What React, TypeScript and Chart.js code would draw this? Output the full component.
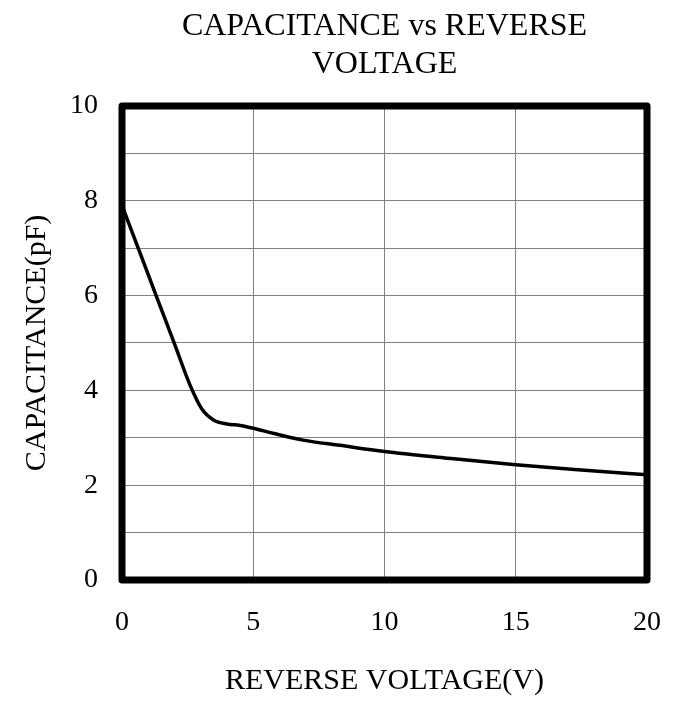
import React, { useEffect, useRef } from "react";
import { Chart, registerables } from "chart.js";

Chart.register(...registerables);

const voltage = [0, 0.7, 1.3, 2.0, 2.6, 3.05, 3.5, 4.0, 4.5, 5.0, 5.8, 6.9, 8.3, 10.0, 12.4, 15.0, 17.5, 20.0];
const capacitance = [7.9, 6.88, 6.0, 4.98, 4.1, 3.6, 3.37, 3.29, 3.26, 3.2, 3.09, 2.95, 2.84, 2.71, 2.57, 2.43, 2.32, 2.22];
const titleLines = ["CAPACITANCE vs REVERSE", "VOLTAGE"];
const xTitle = "REVERSE VOLTAGE(V)";
const yTitle = "CAPACITANCE(pF)";

const FONT = '"Liberation Serif", "Times New Roman", serif';

const framePlugin = {
  id: "frame",
  afterDatasetsDraw(chart: any) {
    const { ctx, chartArea } = chart;
    ctx.save();
    ctx.strokeStyle = "#000";
    ctx.lineWidth = 7;
    ctx.lineJoin = "round";
    ctx.strokeRect(chartArea.left, chartArea.top, chartArea.right - chartArea.left, chartArea.bottom - chartArea.top);
    ctx.restore();
  },
};

export default function App() {
  const ref = useRef<HTMLCanvasElement | null>(null);
  useEffect(() => {
    if (!ref.current) return;
    const chart = new Chart(ref.current, {
      type: "line",
      data: {
        datasets: [
          {
            data: voltage.map((v, i) => ({ x: v, y: capacitance[i] })),
            borderColor: "#000",
            borderWidth: 3.5,
            pointRadius: 0,
            fill: false,
            cubicInterpolationMode: "monotone",
          },
        ],
      },
      options: {
        animation: false,
        responsive: true,
        maintainAspectRatio: false,
        layout: { padding: { left: 0, right: 26, top: 0, bottom: 0 } },
        plugins: {
          legend: { display: false },
          tooltip: { enabled: false },
          title: {
            display: true,
            text: titleLines,
            fullSize: false,
            color: "#000",
            font: { family: FONT, size: 32, weight: "normal", lineHeight: 1.17 },
            padding: { top: 8, bottom: 23 },
          },
        },
        scales: {
          x: {
            type: "linear",
            min: 0,
            max: 20,
            afterFit: (s: any) => {
              s.height = 130;
              s.paddingLeft = 0;
              s.paddingRight = 0;
            },
            ticks: {
              stepSize: 5,
              color: "#000",
              padding: 26,
              font: { family: FONT, size: 28 },
              maxRotation: 0,
            },
            grid: { color: "#808080", lineWidth: 1, drawTicks: false },
            border: { display: false },
            title: {
              display: true,
              text: xTitle,
              color: "#000",
              font: { family: FONT, size: 30, lineHeight: 1.2 },
              padding: { top: 11, bottom: 11 },
            },
          },
          y: {
            type: "linear",
            min: 0,
            max: 10,
            afterFit: (s: any) => {
              s.width = 122;
            },
            ticks: {
              stepSize: 1,
              color: "#000",
              padding: 24,
              font: { family: FONT, size: 28 },
              callback: (v: any) => (Number(v) % 2 === 0 ? String(v) : ""),
            },
            grid: { color: "#808080", lineWidth: 1, drawTicks: false },
            border: { display: false },
            title: {
              display: true,
              text: yTitle,
              color: "#000",
              font: { family: FONT, size: 30, lineHeight: 1.2 },
              padding: { top: 19, bottom: 19 },
            },
          },
        },
      },
      plugins: [framePlugin],
    } as any);
    return () => chart.destroy();
  }, []);
  return (
    <div style={{ position: "fixed", left: 0, top: 0, width: 673, height: 710, background: "#fff" }}>
      <canvas ref={ref} />
    </div>
  );
}
